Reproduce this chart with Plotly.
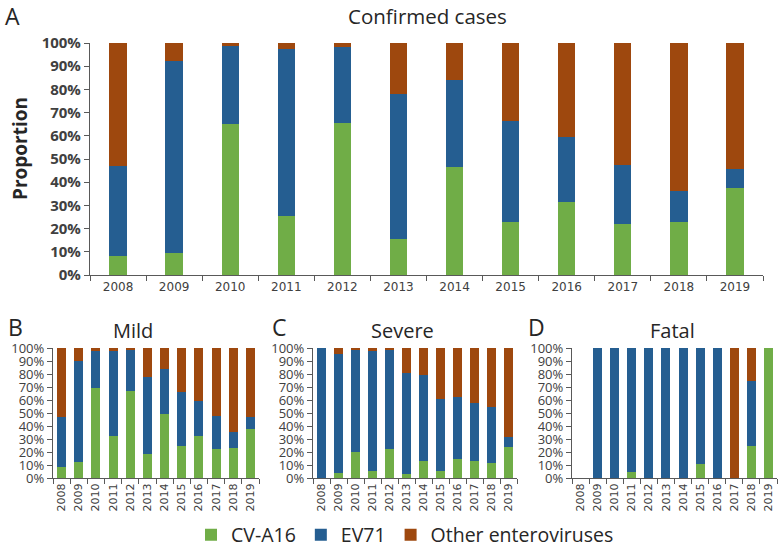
import plotly.graph_objects as go

years = [str(y) for y in range(2008, 2020)]

# Panel A: Confirmed cases (percent)
a_cv = [8.3, 9.4, 65.0, 25.5, 65.5, 15.7, 46.5, 23.0, 31.4, 22.0, 23.0, 37.7]
a_ev = [38.9, 82.8, 33.8, 72.1, 32.8, 62.4, 37.5, 43.5, 28.2, 25.3, 13.3, 8.2]
a_ot = [52.8, 7.8, 1.2, 2.4, 1.7, 21.9, 16.0, 33.5, 40.4, 52.7, 63.7, 54.1]

# Panel B: Mild
b_cv = [8.5, 12.1, 69.5, 32.1, 66.9, 18.2, 49.5, 24.4, 32.1, 22.3, 23.3, 37.9]
b_ev = [38.4, 78.2, 28.4, 65.3, 31.3, 59.2, 34.6, 41.5, 27.1, 25.4, 12.3, 9.0]
b_ot = [53.1, 9.7, 2.1, 2.6, 1.8, 22.6, 15.9, 34.1, 40.8, 52.3, 64.4, 53.1]

# Panel C: Severe
c_cv = [0, 4.1, 20.0, 5.1, 22.6, 3.3, 12.8, 5.1, 14.6, 12.8, 11.3, 23.6]
c_ev = [100, 91.5, 79.2, 92.6, 75.9, 77.7, 66.4, 55.7, 48.0, 44.6, 43.3, 7.7]
c_ot = [0, 4.4, 0.8, 2.3, 1.5, 19.0, 20.8, 39.2, 37.4, 42.6, 45.4, 68.7]

# Panel D: Fatal
d_cv = [0, 0, 0, 4.3, 0, 0, 0, 11.1, 0, 0, 25, 100]
d_ev = [0, 100, 100, 95.7, 100, 100, 100, 88.9, 100, 0, 50, 0]
d_ot = [0, 0, 0, 0, 0, 0, 0, 0, 0, 100, 25, 0]

series_names = ["CV-A16", "EV71", "Other enteroviruses"]
colors = ["#70AD47", "#255E91", "#9E480E"]
y_ticks = list(range(0, 101, 10))
y_ticktext = [f"{v}%" for v in y_ticks]

W, H = 778, 548
def px_x(p): return p / W
def px_y(p): return 1 - p / H

fig = go.Figure()

panels = [
    ("", (a_cv, a_ev, a_ot), 0.31, True),
    ("2", (b_cv, b_ev, b_ot), 0.53, False),
    ("3", (c_cv, c_ev, c_ot), 0.53, False),
    ("4", (d_cv, d_ev, d_ot), 0.53, False),
]
for suf, data, bw, show in panels:
    for name, vals, col in zip(series_names, data, colors):
        fig.add_trace(go.Bar(
            x=years, y=vals, name=name, marker=dict(color=col, line=dict(width=0)),
            width=bw, showlegend=show, xaxis="x" + suf, yaxis="y" + suf,
        ))

axis_col = "#595959"
tick_col = "#404040"
common_x = dict(type="category", showline=True, linecolor=axis_col, linewidth=1.2,
                ticks="outside", tickson="boundaries", ticklen=5, tickcolor=axis_col,
                showgrid=False, zeroline=False)
common_y = dict(range=[0, 100], tickvals=y_ticks, ticktext=y_ticktext, showline=True,
                linecolor=axis_col, linewidth=1.2, ticks="outside", ticklen=5,
                tickcolor=axis_col, showgrid=False, zeroline=False)

layout = dict(
    width=W, height=H, barmode="stack", plot_bgcolor="white", paper_bgcolor="white",
    margin=dict(l=0, r=0, t=0, b=0, autoexpand=False),
    font=dict(family="Open Sans", color="#262626"),
    xaxis=dict(domain=[px_x(90), px_x(763)], anchor="y",
               tickfont=dict(family="DejaVu Sans", size=12, color=tick_col), **common_x),
    yaxis=dict(domain=[px_y(275), px_y(43)], anchor="x",
               tickfont=dict(family="Open Sans", size=15, color=tick_col, weight="bold"),
               **common_y),
    legend=dict(orientation="h", traceorder="normal", x=px_x(405), xanchor="center",
                y=px_y(535), yanchor="middle",
                font=dict(family="Open Sans", size=19.5, color="#262626"),
                itemwidth=30, bgcolor="rgba(0,0,0,0)"),
)
small = [("2", 53, 259), ("3", 313, 517), ("4", 572, 777)]
for suf, x0, x1 in small:
    layout["xaxis" + suf] = dict(domain=[px_x(x0), px_x(x1)], anchor="y" + suf,
                                 tickangle=-90,
                                 tickfont=dict(family="DejaVu Sans", size=11, color=tick_col),
                                 **common_x)
    layout["yaxis" + suf] = dict(domain=[px_y(478), px_y(348)], anchor="x" + suf,
                                 tickfont=dict(family="Open Sans", size=13, color=tick_col),
                                 **common_y)
fig.update_layout(**layout)

ann = []
def add_text(x, y, text, size, bold=False, angle=0, xanchor="center"):
    ann.append(dict(x=px_x(x), y=px_y(y), xref="paper", yref="paper", text=text,
                    showarrow=False, textangle=angle, xanchor=xanchor, yanchor="middle",
                    font=dict(family="Open Sans", size=size, color="#262626",
                              weight="bold" if bold else "normal")))

add_text(12, 16, "A", 23)
add_text(427, 16, "Confirmed cases", 20.5)
add_text(20, 149, "Proportion", 19, bold=True, angle=-90)
add_text(15, 327, "B", 23)
add_text(133, 330, "Mild", 20)
add_text(279, 327, "C", 23)
add_text(402, 330, "Severe", 20)
add_text(536, 327, "D", 23)
add_text(672, 330, "Fatal", 20)
fig.update_layout(annotations=ann)

fig.write_html(
    "out.html",
    config={"displayModeBar": False},
    post_script="document.body.style.margin='0';document.body.style.overflow='hidden';",
)
